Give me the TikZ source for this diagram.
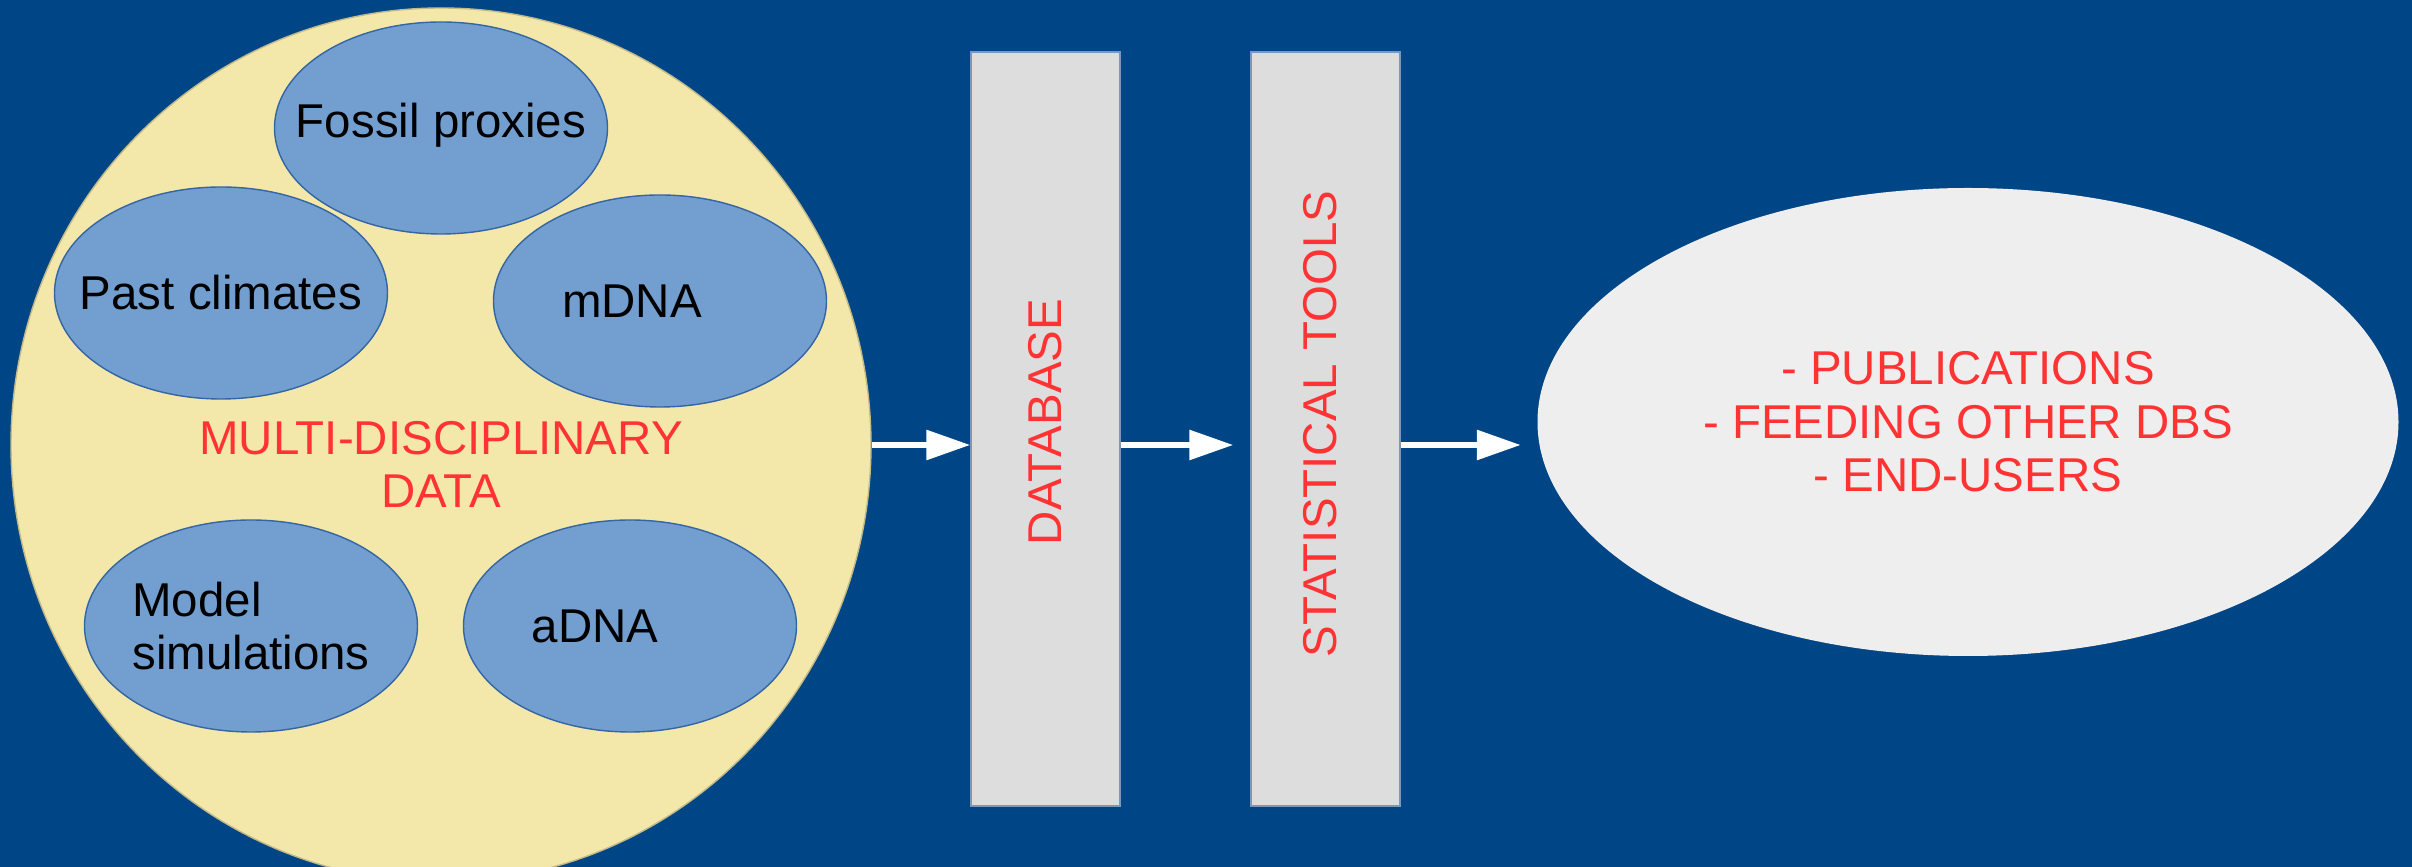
\documentclass[tikz,border=0pt]{standalone}
\usepackage{fontspec}
\setmainfont{Liberation Sans}
\usepackage{tikz}
\usetikzlibrary{shapes,calc,positioning,arrows.meta}
\definecolor{bgblue}{HTML}{004586}
\definecolor{paleyellow}{HTML}{F3E8AA}
\definecolor{skyblue}{HTML}{729FCF}
\definecolor{edgeblue}{HTML}{3465A4}
\definecolor{boxgrey}{HTML}{DDDDDD}
\definecolor{boxedge}{HTML}{7A97BD}
\definecolor{outgrey}{HTML}{EEEEEE}
\definecolor{lightred}{HTML}{FF3333}

\begin{document}
\begin{tikzpicture}[
    font=\fontsize{13.5}{15.2}\selectfont,
    blob/.style={ellipse, draw=edgeblue, fill=skyblue, minimum width=3.33cm,
      minimum height=2.12cm, inner sep=0pt, text=black},
    stage/.style={rectangle, draw=boxedge, fill=boxgrey, minimum width=1.49cm,
      minimum height=7.54cm, inner sep=0pt},
    redtext/.style={text=lightred, align=center},
    flow/.style={draw=white, line width=0.06cm, -{Triangle[length=0.44cm, width=0.29cm]}}
  ]
  \def\w{24.12}
  \def\h{8.67}
  \useasboundingbox (0,0) rectangle (\w,-\h);
  \clip (0,0) rectangle (\w,-\h);
  \fill[bgblue] (0,0) rectangle (\w,-\h);

  % data sources
  \node[ellipse, fill=paleyellow, draw=paleyellow!80!black, minimum width=8.60cm,
    minimum height=8.74cm, inner sep=0pt] (data) at (4.41,-4.45) {};
  \node[blob, label={[yshift=0.03cm]center:Fossil proxies}] (fossil) at (4.41,-1.28) {};
  \node[blob, label={center:Past climates}] (climates) at (2.21,-2.93) {};
  \node[blob, label={[xshift=-0.28cm]center:mDNA}] (mdna) at (6.60,-3.01) {};
  \node[blob, label={[align=left]center:Model\\simulations}] (models) at (2.51,-6.26) {};
  \node[blob, label={[xshift=-0.35cm]center:aDNA}] (adna) at (6.30,-6.26) {};
  \node[redtext] (datatxt) at (4.41,-4.645) {MULTI-DISCIPLINARY\\DATA};

  % processing
  \node[stage] (db) at (10.455,-4.29) {};
  \node[stage] (stat) at (13.255,-4.29) {};
  \node[redtext, rotate=90] (dbtxt) at ($(db)+(0,0.07)$) {DATABASE};
  \node[redtext, rotate=90] (stattxt) at ($(stat)+(-0.055,0.05)$) {STATISTICAL TOOLS};

  % output
  \node[ellipse, fill=outgrey, minimum width=8.61cm, minimum height=4.68cm,
    inner sep=0pt, redtext] (out) at (19.68,-4.22)
    {- PUBLICATIONS\\- FEEDING OTHER DBS\\- END-USERS};

  \draw[flow] (data.east) -- (data.east -| db.west);
  \draw[flow, shorten >=0.17cm] (db.east |- data.east) -- (stat.west |- data.east);
  \draw[flow, shorten >=0.16cm] (stat.east |- data.east) -- (out.west |- data.east);
\end{tikzpicture}
\end{document}
